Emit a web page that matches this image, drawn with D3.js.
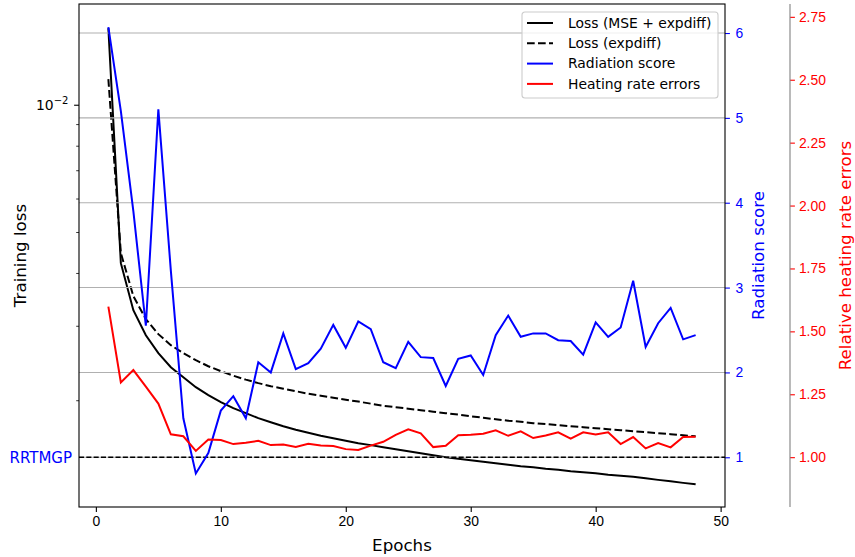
<!DOCTYPE html>
<html>
<head>
<meta charset="utf-8">
<script src="https://cdn.jsdelivr.net/npm/d3@7"></script>
<style>
  body { margin: 0; background: #fff; }
  svg { font-family: "DejaVu Sans", sans-serif; }
</style>
</head>
<body>
<div id="chart"></div>
<script>
// training loss, MSE + expdiff (log axis)
const lossTotal = [0.01518, 0.004220, 0.003266, 0.002850, 0.002584, 0.002394, 0.002267, 0.002147, 0.002056, 0.001979,
  0.001915, 0.001864, 0.001814, 0.001774, 0.001736, 0.001703, 0.001676, 0.001648, 0.001626, 0.001604,
  0.001583, 0.001566, 0.001548, 0.001532, 0.001515, 0.001498, 0.001482, 0.001466, 0.001454, 0.001442,
  0.001430, 0.001419, 0.001407, 0.001396, 0.001388, 0.001377, 0.001369, 0.001358, 0.001351, 0.001343,
  0.001332, 0.001325, 0.001318, 0.001307, 0.001296, 0.001286, 0.001275, 0.001265];
// training loss, expdiff only
const lossExpdiff = [0.01150, 0.004457, 0.003526, 0.003111, 0.002866, 0.002699, 0.002584, 0.002487, 0.002407, 0.002343,
  0.002286, 0.002237, 0.002195, 0.002159, 0.002130, 0.002101, 0.002072, 0.002050, 0.002028, 0.002006,
  0.001985, 0.001963, 0.001941, 0.001926, 0.001910, 0.001894, 0.001879, 0.001864, 0.001849, 0.001833,
  0.001818, 0.001803, 0.001789, 0.001779, 0.001765, 0.001756, 0.001746, 0.001736, 0.001727, 0.001717,
  0.001708, 0.001699, 0.001689, 0.001680, 0.001671, 0.001662, 0.001652, 0.001643];
const radScore = [6.07, 5.08, 3.90, 2.55, 5.10, 3.20, 1.46, 0.81, 1.05, 1.55,
  1.72, 1.46, 2.12, 2.00, 2.46, 2.04, 2.11, 2.28, 2.56, 2.29,
  2.60, 2.51, 2.12, 2.05, 2.36, 2.18, 2.17, 1.84, 2.16, 2.20,
  1.97, 2.44, 2.67, 2.42, 2.46, 2.46, 2.38, 2.37, 2.21, 2.59,
  2.42, 2.53, 3.08, 2.30, 2.58, 2.76, 2.39, 2.44];
const hrErrors = [1.598, 1.297, 1.346, 1.280, 1.213, 1.091, 1.083, 1.025, 1.070, 1.068,
  1.052, 1.057, 1.065, 1.048, 1.050, 1.041, 1.053, 1.046, 1.044, 1.032,
  1.029, 1.046, 1.061, 1.089, 1.111, 1.095, 1.040, 1.045, 1.087, 1.089,
  1.093, 1.107, 1.085, 1.103, 1.076, 1.086, 1.099, 1.074, 1.099, 1.090,
  1.099, 1.052, 1.080, 1.035, 1.056, 1.039, 1.080, 1.081];
const epochs = lossTotal.map((_, i) => i + 1);

const xTicks = [0, 10, 20, 30, 40, 50];
const scoreTicks = [1, 2, 3, 4, 5, 6];
const errTicks = [1.00, 1.25, 1.50, 1.75, 2.00, 2.25, 2.50, 2.75];
const lossMajor = [0.01];
const lossMinor = [0.002, 0.003, 0.004, 0.005, 0.006, 0.007, 0.008, 0.009];
const rrtmgpLevel = 1;

const legendItems = [
  { name: "Loss (MSE + expdiff)", color: "#000", dash: null },
  { name: "Loss (expdiff)", color: "#000", dash: "7.7,3.3" },
  { name: "Radiation score", color: "#0000ff", dash: null },
  { name: "Heating rate errors", color: "#ff0000", dash: null }
];

const W = 855, H = 557;
const L = 79, R = 725, T = 4, B = 507;
const spine3 = 790;

const svg = d3.select("#chart").append("svg")
  .attr("width", W).attr("height", H);

const x = d3.scaleLinear().domain([-1.35, 50.35]).range([L, R]);
const yLoss = d3.scaleLog().domain([0.001118, 0.01731]).range([B, T]);
const yScore = d3.scaleLinear().domain([0.414, 6.342]).range([B, T]);
const yErr = d3.scaleLinear().domain([0.802, 2.801]).range([B, T]);

svg.append("defs").append("clipPath").attr("id", "clip")
  .append("rect").attr("x", L).attr("y", T).attr("width", R - L).attr("height", B - T);

const plot = svg.append("g").attr("clip-path", "url(#clip)");

// loss lines (left axis)
const lineLoss = d3.line().x((d, i) => x(epochs[i])).y(d => yLoss(d));
plot.append("path").datum(lossTotal).attr("d", lineLoss)
  .attr("fill", "none").attr("stroke", "#000").attr("stroke-width", 2);
plot.append("path").datum(lossExpdiff).attr("d", lineLoss)
  .attr("fill", "none").attr("stroke", "#000").attr("stroke-width", 2)
  .attr("stroke-dasharray", "7.7,3.3");

// grid on radiation score axis
plot.selectAll(".grid").data(scoreTicks).join("line")
  .attr("x1", L).attr("x2", R)
  .attr("y1", d => yScore(d)).attr("y2", d => yScore(d))
  .attr("stroke", "#b0b0b0").attr("stroke-width", 1.1);

// RRTMGP reference
plot.append("line")
  .attr("x1", L).attr("x2", R)
  .attr("y1", yScore(rrtmgpLevel)).attr("y2", yScore(rrtmgpLevel))
  .attr("stroke", "#000").attr("stroke-width", 1.4)
  .attr("stroke-dasharray", "5.1,2.2");

plot.append("path").datum(radScore)
  .attr("d", d3.line().x((d, i) => x(epochs[i])).y(d => yScore(d)))
  .attr("fill", "none").attr("stroke", "#0000ff").attr("stroke-width", 2);

plot.append("path").datum(hrErrors)
  .attr("d", d3.line().x((d, i) => x(epochs[i])).y(d => yErr(d)))
  .attr("fill", "none").attr("stroke", "#ff0000").attr("stroke-width", 2);

svg.append("text").attr("x", 72).attr("y", yScore(rrtmgpLevel))
  .attr("dy", "0.35em").attr("text-anchor", "end")
  .attr("fill", "#0000ff").style("font-size", "15px").text("RRTMGP");

// axes
const fs = "13.9px";
const xAxis = svg.append("g").attr("transform", `translate(0,${B})`)
  .call(d3.axisBottom(x).tickValues(xTicks).tickSize(4.9).tickPadding(4.5));
xAxis.select(".domain").remove();
xAxis.selectAll("text").style("font-size", fs).attr("fill", "#000");
xAxis.selectAll("line").attr("stroke-width", 1.1);

const yLeft = svg.append("g").attr("transform", `translate(${L},0)`)
  .call(d3.axisLeft(yLoss).tickValues(lossMinor).tickSize(2.8).tickFormat(""));
yLeft.select(".domain").remove();
yLeft.selectAll("line").attr("stroke-width", 0.8);
const yLeftMaj = svg.append("g").attr("transform", `translate(${L},0)`)
  .call(d3.axisLeft(yLoss).tickValues(lossMajor).tickSize(4.9).tickFormat(""));
yLeftMaj.select(".domain").remove();
yLeftMaj.selectAll("line").attr("stroke-width", 1.1);
lossMajor.forEach(v => {
  const t = svg.append("text").attr("x", 36).attr("y", yLoss(v) + 5)
    .style("font-size", fs).attr("fill", "#000");
  t.append("tspan").text("10");
  t.append("tspan").attr("dy", -6).style("font-size", "10px").text("\u22122");
});

const yRight = svg.append("g").attr("transform", `translate(${R},0)`)
  .call(d3.axisRight(yScore).tickValues(scoreTicks).tickSize(4.9).tickPadding(5.5).tickFormat(d3.format("d")));
yRight.select(".domain").remove();
yRight.selectAll("line").attr("stroke", "#0000ff").attr("stroke-width", 1.1);
yRight.selectAll("text").style("font-size", fs).attr("fill", "#0000ff");

const yRight2 = svg.append("g").attr("transform", `translate(${spine3},0)`)
  .call(d3.axisRight(yErr).tickValues(errTicks).tickSize(4.9).tickPadding(4).tickFormat(d3.format(".2f")));
yRight2.select(".domain").remove();
yRight2.selectAll("line").attr("stroke", "#ff0000").attr("stroke-width", 1.1);
yRight2.selectAll("text").style("font-size", fs).attr("fill", "#ff0000");
svg.append("line").attr("x1", spine3).attr("x2", spine3).attr("y1", T).attr("y2", B)
  .attr("stroke", "#808080").attr("stroke-width", 1.1);

// frame
svg.append("rect").attr("x", L).attr("y", T).attr("width", R - L).attr("height", B - T)
  .attr("fill", "none").attr("stroke", "#000").attr("stroke-width", 1.1);

// axis labels
svg.append("text").attr("x", (L + R) / 2).attr("y", 551)
  .attr("text-anchor", "middle").style("font-size", "16.7px").text("Epochs");
svg.append("text").attr("transform", `translate(26,${(T + B) / 2}) rotate(-90)`)
  .attr("text-anchor", "middle").style("font-size", "16.7px").text("Training loss");
svg.append("text").attr("transform", `translate(764,${(T + B) / 2}) rotate(-90)`)
  .attr("text-anchor", "middle").attr("fill", "#0000ff").style("font-size", "16.7px").text("Radiation score");
svg.append("text").attr("transform", `translate(851,${(T + B) / 2}) rotate(-90)`)
  .attr("text-anchor", "middle").attr("fill", "#ff0000").style("font-size", "16.7px").text("Relative heating rate errors");

// legend
const lg = svg.append("g").attr("transform", "translate(522,12)");
lg.append("rect").attr("width", 196).attr("height", 86).attr("rx", 3)
  .attr("fill", "#fff").attr("fill-opacity", 0.8)
  .attr("stroke", "#cccccc").attr("stroke-width", 1.1);
const row = lg.selectAll(".row").data(legendItems).join("g")
  .attr("transform", (d, i) => `translate(0,${11 + i * 20.3})`);
row.append("line").attr("x1", 5).attr("x2", 31)
  .attr("stroke", d => d.color).attr("stroke-width", 2)
  .attr("stroke-dasharray", d => d.dash);
row.append("text").attr("x", 46).attr("dy", "0.35em")
  .style("font-size", fs).attr("fill", "#000").text(d => d.name);
</script>
</body>
</html>
